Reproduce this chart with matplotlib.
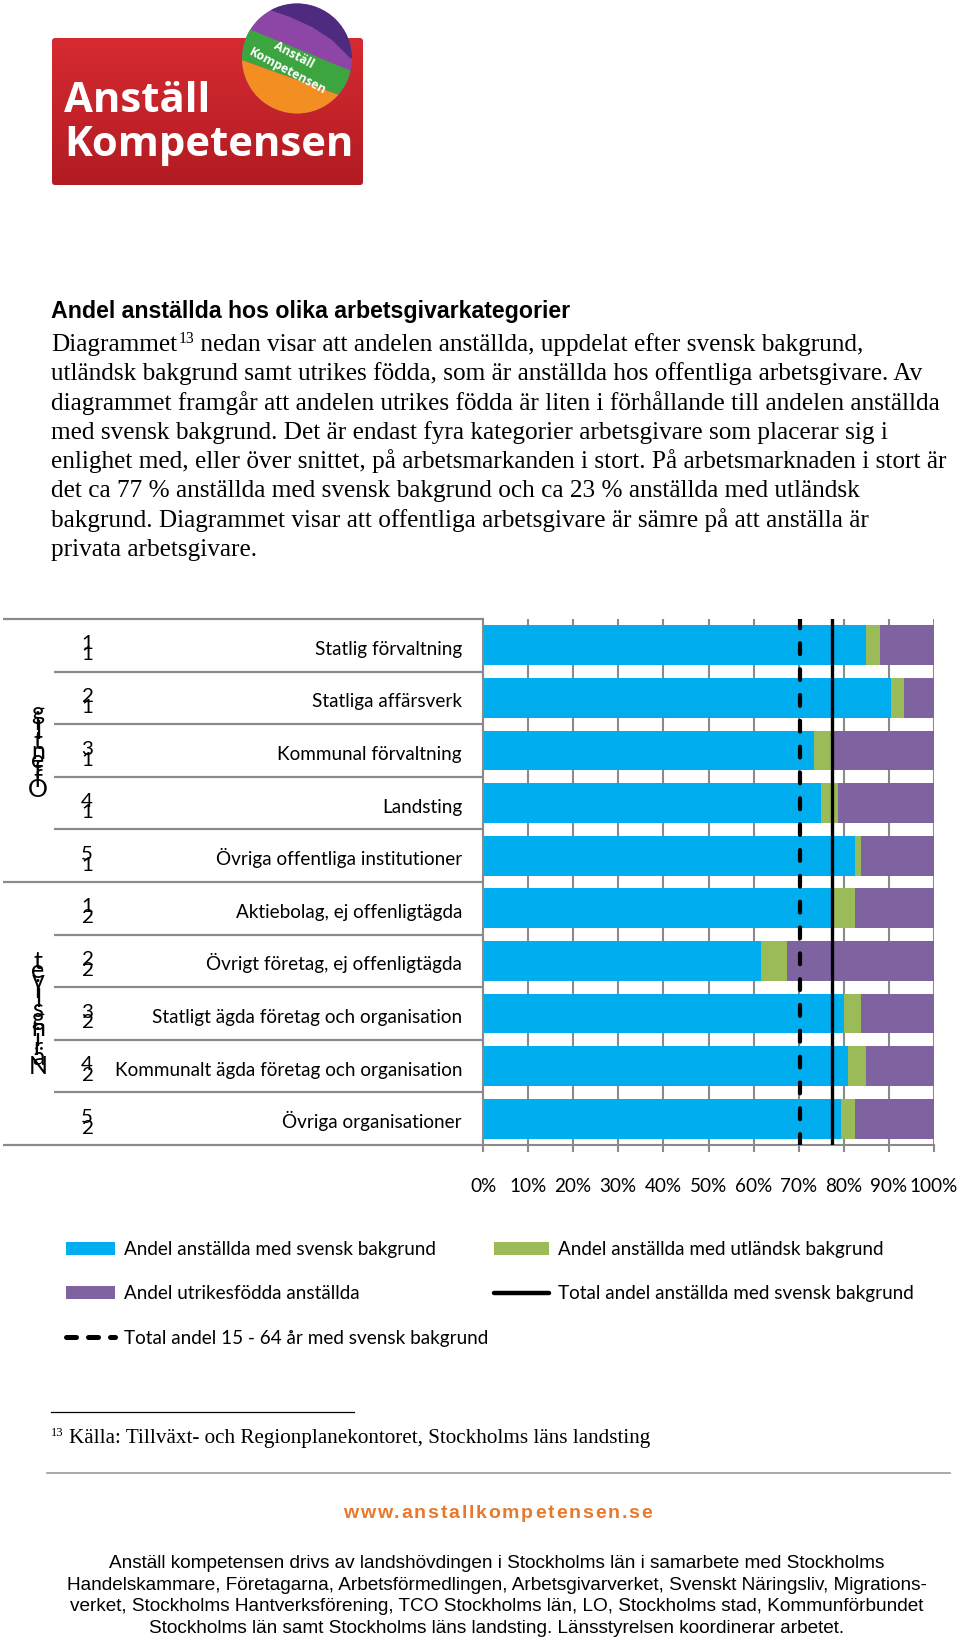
import numpy as np
import matplotlib
matplotlib.use("Agg")
import matplotlib.pyplot as plt
import matplotlib.transforms as mtransforms
from matplotlib.patches import Patch, Circle, Polygon, FancyBboxPatch
from matplotlib.lines import Line2D
from matplotlib.colors import LinearSegmentedColormap

# ---------------- data ----------------
categories = ["Statlig förvaltning", "Statliga affärsverk", "Kommunal förvaltning",
              "Landsting", "Övriga offentliga institutioner",
              "Aktiebolag, ej offenligtägda", "Övrigt företag, ej offenligtägda",
              "Statligt ägda företag och organisation",
              "Kommunalt ägda företag och organisation", "Övriga organisationer"]
sub_number = [1, 2, 3, 4, 5, 1, 2, 3, 4, 5]
group_number = [1, 1, 1, 1, 1, 2, 2, 2, 2, 2]
group_names = ["Offentlig", "Näringslivet"]
group_sizes = [5, 5]
svensk = [85.0, 90.4, 73.5, 74.9, 82.5, 77.9, 61.6, 80.0, 81.0, 79.3]
utlandsk = [3.1, 3.0, 4.3, 3.8, 1.3, 4.6, 5.9, 3.9, 3.9, 3.2]
utrikes = [11.9, 6.6, 22.2, 21.3, 16.2, 17.5, 32.5, 16.1, 15.1, 17.5]
total_svensk = 77.3
total_1564 = 70.3
x_ticks = [0, 10, 20, 30, 40, 50, 60, 70, 80, 90, 100]
x_ticklabels = ["0%", "10%", "20%", "30%", "40%", "50%", "60%", "70%", "80%", "90%", "100%"]
series_labels = ["Andel anställda med svensk bakgrund",
                 "Andel anställda med utländsk bakgrund",
                 "Andel utrikesfödda anställda",
                 "Total andel anställda med svensk bakgrund",
                 "Total andel 15 - 64 år med svensk bakgrund"]

heading = "Andel anställda hos olika arbetsgivarkategorier"
body_lines = [
    "Diagrammet|13| nedan visar att andelen anställda, uppdelat efter svensk bakgrund,",
    "utländsk bakgrund samt utrikes födda, som är anställda hos offentliga arbetsgivare. Av",
    "diagrammet framgår att andelen utrikes födda är liten i förhållande till andelen anställda",
    "med svensk bakgrund. Det är endast fyra kategorier arbetsgivare som placerar sig i",
    "enlighet med, eller över snittet, på arbetsmarkanden i stort. På arbetsmarknaden i stort är",
    "det ca 77 % anställda med svensk bakgrund och ca 23 % anställda med utländsk",
    "bakgrund. Diagrammet visar att offentliga arbetsgivare är sämre på att anställa är",
    "privata arbetsgivare.",
]
footnote = "Källa: Tillväxt- och Regionplanekontoret, Stockholms läns landsting"
website = "www.anstallkompetensen.se"
footer_lines = [
    "Anställ kompetensen drivs av landshövdingen i Stockholms län i samarbete med Stockholms",
    "Handelskammare, Företagarna, Arbetsförmedlingen, Arbetsgivarverket, Svenskt Näringsliv, Migrations-",
    "verket, Stockholms Hantverksförening, TCO Stockholms län, LO, Stockholms stad, Kommunförbundet",
    "Stockholms län samt Stockholms läns landsting. Länsstyrelsen koordinerar arbetet.",
]

# ---------------- style ----------------
BLUE = "#00AEEF"
GREEN = "#9BBB59"
PURPLE = "#7F63A1"
GRAY = "#8A8A8A"
CHART_FONT = "Lato"
SERIF = "Liberation Serif"
SANS = "Liberation Sans"

W, H = 960, 1641
fig = plt.figure(figsize=(W / 100, H / 100), dpi=100)
fig.patch.set_facecolor("white")
renderer = fig.canvas.get_renderer()

bg = fig.add_axes([0, 0, 1, 1], zorder=0)
bg.set_xlim(0, W)
bg.set_ylim(H, 0)
bg.axis("off")


def fit(text, target, **kw):
    t = bg.text(0, 0, text, fontsize=20, **kw)
    w = t.get_window_extent(renderer).width
    t.remove()
    return 20.0 * target / w


def width_of(t):
    return t.get_window_extent(renderer).width

# ---------------- logo ----------------
rect = FancyBboxPatch((52, 38), 311, 147, boxstyle="round,pad=0,rounding_size=3",
                      facecolor="none", edgecolor="none")
bg.add_patch(rect)
grad = np.linspace(0, 1, 100).reshape(-1, 1)
cm_red = LinearSegmentedColormap.from_list("r", ["#D62A31", "#C4232A", "#B21B22"])
im = bg.imshow(grad, cmap=cm_red, extent=(52, 363, 185, 38), aspect="auto", zorder=1)
im.set_clip_path(rect)
fs_logo = fit("Kompetensen", 290, family="Open Sans", weight="bold")
bg.text(64, 112, "Anställ", fontsize=fs_logo, family="Open Sans", weight="bold",
        color="white", va="baseline", zorder=3)
bg.text(64, 156, "Kompetensen", fontsize=fs_logo, family="Open Sans", weight="bold",
        color="white", va="baseline", zorder=3)

cx, cy, r = 297, 58.5, 55
circ = Circle((cx, cy), r, facecolor="#8D45A6", edgecolor="none", zorder=4)
bg.add_patch(circ)
clipc = Circle((cx, cy), r, transform=bg.transData)
peel = Polygon([(268, 0), (270, 10), (290, 17), (312, 27), (332, 40), (350, 58),
                (400, 70), (400, 0)], closed=True, facecolor="#4F2B80",
               edgecolor="none", zorder=5)
bg.add_patch(peel)
peel.set_clip_path(clipc)
green_band = Polygon([(200, 9), (420, 99), (420, 124), (200, 45)], closed=True,
                     facecolor="#3DA540", edgecolor="none", zorder=6)
bg.add_patch(green_band)
green_band.set_clip_path(clipc)
orange = Polygon([(200, 45), (420, 124), (420, 200), (200, 200)], closed=True,
                 facecolor="#F38E22", edgecolor="none", zorder=6)
bg.add_patch(orange)
orange.set_clip_path(clipc)
fs_badge = fit("Kompetensen", 86, family="Open Sans", weight="bold")
bg.text(294, 55, "Anställ", fontsize=fs_badge, family="Open Sans", weight="bold",
        color="white", rotation=-28, ha="center", va="center", zorder=7,
        rotation_mode="anchor")
bg.text(288, 71, "Kompetensen", fontsize=fs_badge, family="Open Sans", weight="bold",
        color="white", rotation=-28, ha="center", va="center", zorder=7,
        rotation_mode="anchor")

# ---------------- heading & body ----------------
fs_head = fit(heading, 520, family=SANS, weight="bold")
bg.text(51, 318, heading, fontsize=fs_head, family=SANS, weight="bold", va="baseline")

fs_body = fit(body_lines[2], 889, family=SERIF)
base0, pitch = 351, 29.3
for i, line in enumerate(body_lines):
    yb = base0 + i * pitch
    x = 51
    parts = line.split("|")
    for k, part in enumerate(parts):
        if k % 2 == 1:
            t = bg.text(x + 1, yb - 8, part, fontsize=fs_body * 0.62, family=SERIF, va="baseline")
            x += width_of(t) + 1
        else:
            t = bg.text(x, yb, part, fontsize=fs_body, family=SERIF, va="baseline")
            x += width_of(t)

# ---------------- chart ----------------
L, R, T, B = 483, 934, 619, 1145
axc = fig.add_axes([L / W, 1 - B / H, (R - L) / W, (B - T) / H], zorder=2)
axc.set_facecolor("none")
n = len(categories)
y = np.arange(n)
sv = np.array(svensk)
ut = np.array(utlandsk)
ur = np.array(utrikes)
axc.barh(y, sv, height=0.76, color=BLUE, zorder=2)
axc.barh(y, ut, left=sv, height=0.76, color=GREEN, zorder=2)
axc.barh(y, ur, left=sv + ut, height=0.76, color=PURPLE, zorder=2)
axc.axvline(total_svensk, color="black", lw=2.4, zorder=4)
axc.axvline(total_1564, color="black", lw=3.0, ls=(0, (2.6, 3.6)),
            dash_capstyle="round", zorder=4)
axc.set_xlim(0, 100)
axc.set_ylim(n - 0.5, -0.5)
axc.set_xticks(x_ticks)
fs_cat = fit("Kommunalt ägda företag och organisation", 348, family=CHART_FONT)
axc.set_xticklabels(x_ticklabels, family=CHART_FONT, fontsize=fs_cat)
axc.tick_params(axis="x", length=5, width=1.5, color=GRAY, pad=19)
axc.tick_params(axis="y", left=False, labelleft=False)
axc.xaxis.grid(True, color=GRAY, lw=1.5)
axc.set_axisbelow(True)
for s in ["top", "right"]:
    axc.spines[s].set_visible(False)
for s in ["left", "bottom"]:
    axc.spines[s].set_color(GRAY)
    axc.spines[s].set_linewidth(1.5)

trans = mtransforms.blended_transform_factory(axc.transAxes, axc.transData)
px_per_row = (B - T) / n


def xf(px):
    return (px - L) / (R - L)

# separators
bounds = np.arange(n + 1) - 0.5
group_bounds = set(np.cumsum([0] + group_sizes))
for k, b in enumerate(bounds):
    x0 = xf(3) if k in group_bounds else xf(54)
    axc.plot([x0, 0], [b, b], transform=trans, clip_on=False, color=GRAY, lw=1.6,
             solid_capstyle="butt")

for i, cat in enumerate(categories):
    axc.text(xf(462), i + 9.5 / px_per_row, cat, transform=trans, ha="right",
             va="baseline", family=CHART_FONT, fontsize=fs_cat)
    axc.text(xf(87), i + 4 / px_per_row, str(sub_number[i]), transform=trans,
             ha="center", va="baseline", family=CHART_FONT, fontsize=fs_cat * 1.08)
    axc.text(xf(87), i + 15 / px_per_row, str(group_number[i]), transform=trans,
             ha="center", va="baseline", family=CHART_FONT, fontsize=fs_cat * 1.08)

start = 0
for g, name in enumerate(group_names):
    gc = start + (group_sizes[g] - 1) / 2.0
    letters = name[::-1]
    m = len(letters)
    p = 9.6 / px_per_row
    for k, ch in enumerate(letters):
        axc.text(xf(38), gc + (k - (m - 1) / 2.0) * p + 8 / px_per_row, ch,
                 transform=trans, ha="center", va="baseline", family=CHART_FONT,
                 fontsize=fs_cat * 1.32)
    start += group_sizes[g]

# ---------------- legend ----------------
fs_px = fs_cat * 100 / 72
h_blue = Patch(facecolor=BLUE, edgecolor="none")
h_green = Patch(facecolor=GREEN, edgecolor="none")
h_purple = Patch(facecolor=PURPLE, edgecolor="none")
h_solid = Line2D([], [], color="black", lw=3.2, solid_capstyle="round")
h_dash = Line2D([], [], color="black", lw=3.6, ls=(0, (2.0, 2.4)), dash_capstyle="round")
common = dict(frameon=False, borderpad=0, borderaxespad=0,
              handletextpad=0.5, labelspacing=1.45, handleheight=0.68,
              prop=dict(family=CHART_FONT, size=fs_cat))
leg1 = fig.legend([h_blue, h_purple, h_dash], [series_labels[0], series_labels[2], series_labels[4]],
                  loc="upper left", bbox_to_anchor=(66 / W, 1 - 1241 / H),
                  handlelength=49 / fs_px, **common)
leg2 = fig.legend([h_green, h_solid], [series_labels[1], series_labels[3]],
                  loc="upper left", bbox_to_anchor=(494 / W, 1 - 1241 / H),
                  handlelength=55 / fs_px, **common)

# ---------------- footnote & footer ----------------
bg.plot([51, 354], [1412, 1412], color="black", lw=0.9)
fs_fn = fit(footnote, 580, family=SERIF)
bg.text(51, 1436, "13", fontsize=fs_fn * 0.6, family=SERIF, va="baseline")
bg.text(69, 1443, footnote, fontsize=fs_fn, family=SERIF, va="baseline")
bg.plot([47, 950], [1473, 1473], color="#9A9A9A", lw=1.2)

# letter-spaced website line
fs_web = 14.0
chars = []
total = 0.0
for ch in website:
    t = bg.text(0, 1518, ch, fontsize=fs_web, family=SANS, weight="bold",
                color="#E8782A", va="baseline")
    w = width_of(t)
    chars.append((t, w))
    total += w
extra = (309 - total) / (len(website) - 1)
x = 343.0
for t, w in chars:
    t.set_x(x)
    x += w + extra

fs_foot = fit(footer_lines[1], 865, family=SANS)
for i, line in enumerate(footer_lines):
    bg.text(497, [1568, 1590, 1611, 1633][i], line, fontsize=fs_foot, family=SANS,
            ha="center", va="baseline")

fig.savefig("out.png", dpi=100, facecolor="white")
